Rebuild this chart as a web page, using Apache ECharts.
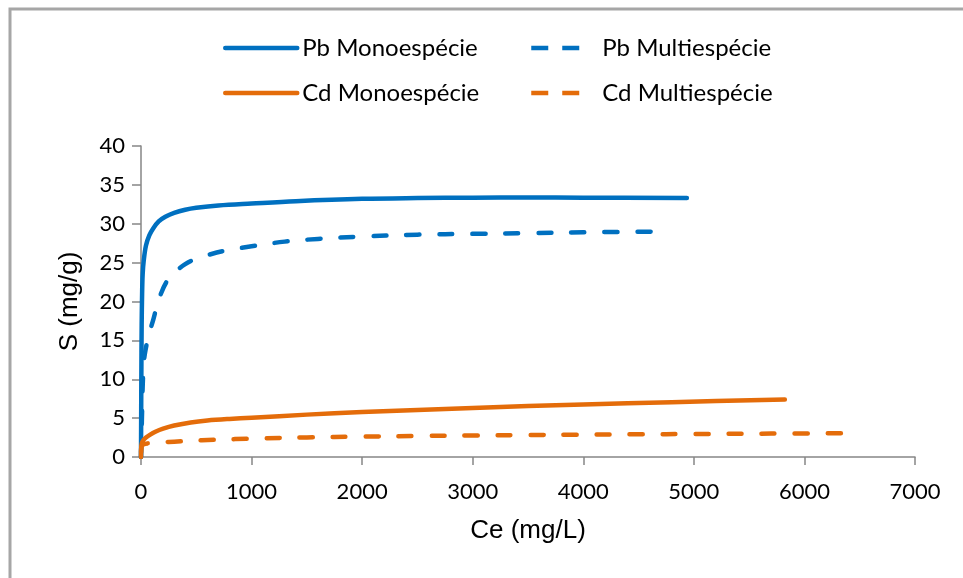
<!DOCTYPE html>
<html><head><meta charset="utf-8">
<script src="https://cdn.jsdelivr.net/npm/echarts@6/dist/echarts.min.js"></script>
<style>html,body{margin:0;padding:0;background:#fff}#c{width:963px;height:578px}</style>
</head><body><div id="c"></div>
<script>
// Series names
const seriesNames = ['Pb Monoespécie', 'Pb Multiespécie', 'Cd Monoespécie', 'Cd Multiespécie'];
// [Ce (mg/L), S (mg/g)]
const pbMono = [[0,0],[3,10],[6,17],[10,21],[15,23.5],[25,25.3],[45,27.2],[75,28.5],[110,29.4],[160,30.3],[220,30.9],[300,31.4],[400,31.8],[500,32.05],[700,32.35],[1000,32.6],[1400,32.9],[2000,33.2],[2500,33.3],[3000,33.35],[3500,33.38],[4000,33.35],[4937,33.3]];
const pbMulti = [[0,0],[5,3],[10,6],[15,9],[27,12.4],[51,14.5],[80,16.2],[110,17.6],[140,19.2],[180,21],[230,22.5],[300,23.7],[400,24.8],[500,25.5],[610,26],[750,26.5],[1000,27.1],[1300,27.7],[1600,28.05],[2000,28.35],[2500,28.6],[3000,28.7],[3500,28.8],[4000,28.9],[4710,29.0]];
const cdMono = [[0,0],[2,1.2],[8,1.8],[20,2.15],[45,2.5],[80,2.85],[130,3.25],[200,3.65],[300,4.05],[450,4.45],[600,4.7],[800,4.9],[1000,5.05],[1500,5.45],[2000,5.8],[2500,6.05],[3000,6.3],[3500,6.55],[4000,6.75],[4800,7.05],[5823,7.4]];
const cdMulti = [[1,0.6],[5,1.3],[20,1.6],[60,1.75],[200,1.9],[300,1.97],[550,2.15],[850,2.3],[1100,2.41],[1500,2.52],[2000,2.62],[2500,2.71],[3000,2.77],[3500,2.83],[3900,2.87],[4500,2.92],[5000,2.96],[5700,3.01],[6440,3.06]];
// Axis settings
const xTicks = {min: 0, max: 7000, interval: 1000};
const yTicks = {min: 0, max: 40, interval: 5};
const xTitle = 'Ce (mg/L)';
const yTitle = 'S (mg/g)';

const BLUE = '#0070C0', ORANGE = '#E46C0A';
const chart = echarts.init(document.getElementById('c'), null, {renderer: 'canvas'});
const dash = [13, 20];
function line(name, data, color, dashed) {
  return {
    name, type: 'line', data, showSymbol: false, symbol: 'none',
    smooth: 0.35, animation: false,
    lineStyle: {color, width: 4.5, type: dashed ? dash : 'solid', cap: 'round', join: 'round'},
    itemStyle: {color}
  };
}
const legendText = {fontFamily: 'Lato', fontSize: 24, color: '#000', lineHeight: 26};
const legendCommon = {top: 30, orient: 'vertical', itemGap: 19, itemHeight: 14,
  itemStyle: {opacity: 0}, lineStyle: {width: 4.5}};
chart.setOption({
  animation: false,
  graphic: [{type: 'rect', shape: {x: 10, y: 9, width: 1100, height: 1000}, style: {fill: 'none', stroke: '#A6A6A6', lineWidth: 3}, z: -1}],
  legend: [
    Object.assign({left: 218, itemWidth: 72, textStyle: legendText,
      data: [seriesNames[0], seriesNames[2]]}, legendCommon),
    Object.assign({left: 524, itemWidth: 52,
      textStyle: Object.assign({}, legendText, {padding: [0, 0, 0, 14]}),
      data: [
        {name: seriesNames[1], lineStyle: {type: [17, 14], cap: 'butt', width: 4.5}},
        {name: seriesNames[3], lineStyle: {type: [17, 14], cap: 'butt', width: 4.5}}
      ]}, legendCommon)
  ],
  grid: {left: 141, right: 48, top: 146, bottom: 121, containLabel: false},
  xAxis: {
    type: 'value', min: xTicks.min, max: xTicks.max, interval: xTicks.interval,
    name: xTitle, nameLocation: 'middle', nameGap: 61,
    nameTextStyle: {fontFamily: 'Liberation Sans', fontSize: 26, color: '#000'},
    axisLine: {lineStyle: {color: '#868686', width: 1.5}},
    axisTick: {show: true, length: 8, lineStyle: {color: '#868686', width: 1.5}},
    axisLabel: {fontFamily: 'Lato', fontSize: 22, color: '#000', margin: 24,
      formatter: v => String(v)},
    splitLine: {show: false}
  },
  yAxis: {
    type: 'value', min: yTicks.min, max: yTicks.max, interval: yTicks.interval,
    name: yTitle, nameLocation: 'middle', nameGap: 58, nameRotate: 90,
    nameTextStyle: {fontFamily: 'Liberation Sans', fontSize: 26, color: '#000'},
    axisLine: {show: true, lineStyle: {color: '#868686', width: 1.5}},
    axisTick: {show: true, length: 9, lineStyle: {color: '#868686', width: 1.5}},
    axisLabel: {fontFamily: 'Lato', fontSize: 22, color: '#000', margin: 16},
    splitLine: {show: false}
  },
  series: [
    line(seriesNames[0], pbMono, BLUE, false),
    line(seriesNames[1], pbMulti, BLUE, true),
    line(seriesNames[2], cdMono, ORANGE, false),
    line(seriesNames[3], cdMulti, ORANGE, true)
  ]
});
</script></body></html>
